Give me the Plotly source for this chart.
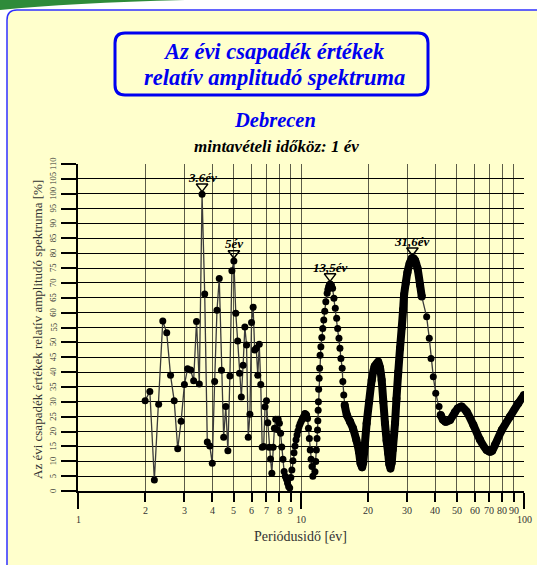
import math
import plotly.graph_objects as go

# ---------------- data ----------------
# sparse part, 2 .. 16 years
per_a = [2.0, 2.1, 2.2, 2.3, 2.4, 2.5, 2.6, 2.7, 2.8, 2.9,
         3.0, 3.1, 3.2, 3.3, 3.4, 3.5, 3.6, 3.7, 3.8, 3.9,
         4.0, 4.1, 4.2, 4.3, 4.4, 4.5, 4.6, 4.7, 4.8, 4.9,
         5.0, 5.1, 5.2, 5.3, 5.4, 5.5, 5.6, 5.7, 5.8, 5.9,
         6.0, 6.1, 6.2, 6.3, 6.4, 6.5, 6.6, 6.7, 6.8, 6.9,
         7.0, 7.1, 7.2, 7.3, 7.4, 7.5, 7.6, 7.7, 7.8, 7.9,
         8.0, 8.1, 8.2, 8.3, 8.4, 8.5, 8.6, 8.7, 8.8, 8.9,
         9.0, 9.1, 9.2, 9.3, 9.4, 9.5, 9.6, 9.7, 9.8, 9.9,
         10.0, 10.1, 10.2, 10.3, 10.4, 10.5, 10.6, 10.7, 10.8, 10.9,
         11.0, 11.1, 11.2, 11.3, 11.55, 11.65, 11.72, 11.8, 11.86, 11.9,
         11.94, 11.97, 12.0, 12.06, 12.12, 12.18, 12.28, 12.4, 12.52, 12.65,
         12.78, 12.92, 13.1, 13.2, 13.3, 13.4, 13.5, 13.6, 13.7, 13.86,
         14.05, 14.25, 14.45, 14.6, 14.8, 14.95, 15.1, 15.3, 15.4, 15.55,
         15.7, 16.05]
amp_a = [30.4, 33.5, 3.7, 29.2, 57.2, 53.2, 38.9, 30.4, 14.2, 23.5,
         35.8, 41.1, 40.7, 37.1, 57.0, 36.0, 99.8, 66.3, 16.5, 15.1,
         9.3, 36.8, 60.8, 71.5, 40.6, 18.1, 28.4, 13.5, 38.7, 74.1,
         77.4, 59.8, 50.5, 39.6, 31.6, 42.3, 55.2, 49.1, 18.1, 25.8,
         56.7, 61.8, 47.4, 48.0, 38.9, 49.4, 35.8, 14.7, 15.0, 28.3,
         30.4, 23.0, 14.7, 10.8, 6.0, 14.7, 21.1, 24.1, 20.7, 24.1,
         22.8, 19.4, 14.8, 10.7, 6.6, 5.0, 4.0, 2.7, 1.5, 1.0,
         4.5, 7.1, 10.2, 12.9, 15.1, 17.2, 18.8, 20.3, 21.6, 22.5,
         23.3, 24.0, 24.6, 25.2, 26.1, 25.9, 25.6, 24.4, 21.1, 17.7,
         13.8, 10.7, 8.2, 5.0, 6.5, 9.9, 13.8, 17.7, 20.5, 23.6,
         27.2, 30.0, 34.2, 37.9, 41.3, 45.7, 48.5, 51.6, 54.7, 57.5,
         60.5, 63.7, 66.5, 67.8, 68.7, 69.3, 69.6, 69.5, 69.2, 68.2,
         64.8, 61.5, 58.1, 54.7, 51.4, 48.0, 44.6, 41.3, 36.8, 32.3,
         28.9, 25.6]

# dense part, 16 .. 35 years
per_b = [15.7, 16.05, 16.6, 17.1, 17.7, 18.2, 18.5, 18.8, 19.0, 19.3,
         19.7, 20.2, 20.75, 21.4, 22.2, 22.6, 23.0, 23.4, 23.8, 24.2,
         24.6, 24.9, 25.2, 25.5, 25.8, 26.4, 26.8, 27.3, 27.8, 28.3,
         28.7, 29.0, 29.5, 30.0, 30.7, 31.4, 32.0, 32.5, 33.3, 34.2, 34.8]
amp_b = [28.9, 25.6, 23.3, 21.1, 17.2, 13.2, 9.3, 8.0, 9.5, 15.0,
         22.8, 30.0, 37.3, 42.0, 43.5, 41.5, 37.3, 30.0, 22.8, 17.0,
         12.7, 9.0, 7.6, 9.5, 14.0, 22.8, 31.0, 40.0, 48.0, 55.0,
         61.0, 66.0, 70.0, 73.5, 76.5, 78.3, 78.2, 77.5, 74.9, 69.3, 65.4]

# sparse part, 35 .. 42 years
per_c = [34.8, 36.6, 37.6, 38.3, 39.2, 40.2, 41.6, 42.3]
amp_c = [65.4, 58.6, 51.4, 44.6, 38.4, 32.9, 28.4, 25.6]

# dense part, 42 .. 100 years
per_d = [42.3, 43.3, 44.4, 46.6, 49.0, 50.5, 52.5, 55.3, 59.3, 63.5,
         68.0, 70.4, 72.0, 74.1, 79.5, 86.5, 94.3, 100.0]
amp_d = [25.6, 24.0, 23.3, 23.9, 26.5, 27.8, 28.4, 26.7, 22.2, 17.2,
         13.8, 13.2, 13.5, 15.5, 20.5, 25.0, 29.5, 32.3]

# marked peaks
peak_per = [3.6, 5.0, 13.5, 31.6]
peak_amp = [99.8, 77.4, 69.6, 78.3]
peak_text = ["3.6év", "5év", "13,5év", "31,6év"]

# ticks
y_ticks = list(range(0, 111, 5))
x_major = [1, 10, 100]
x_minor = [2, 3, 4, 5, 6, 7, 8, 9, 20, 30, 40, 50, 60, 70, 80, 90]
x_labels = [1, 2, 3, 4, 5, 6, 7, 8, 9, 10, 20, 30, 40, 50, 60, 70, 80, 90, 100]

# ---------------- layout helpers ----------------
W, H = 537, 565
ML, MR, MT, MB = 78, 13, 164, 74
PW = W - ML - MR
PH = H - MT - MB


def fx(px):
    return (px - ML) / PW


def fy(py):
    return (H - MB - py) / PH


SERIF = "Liberation Serif, Times New Roman, DejaVu Serif, serif"
BLUE = "#0000F0"
YEL = "#FFFFCC"

fig = go.Figure()

thin = dict(color="#3a3a3a", width=1.3)
dot = dict(color="black", size=7)

fig.add_trace(go.Scatter(x=per_a, y=amp_a, mode="lines+markers", line=thin, marker=dot))
fig.add_trace(go.Scatter(x=per_b, y=amp_b, mode="lines+markers",
                         line=dict(color="black", width=8, shape="spline", smoothing=0.6),
                         marker=dict(color="black", size=8)))
fig.add_trace(go.Scatter(x=per_c, y=amp_c, mode="lines+markers", line=thin, marker=dot))
fig.add_trace(go.Scatter(x=per_d, y=amp_d, mode="lines+markers",
                         line=dict(color="black", width=8, shape="spline", smoothing=0.6),
                         marker=dict(color="black", size=8)))
fig.add_trace(go.Scatter(x=peak_per, y=[a + 2.6 for a in peak_amp], mode="markers",
                         marker=dict(symbol="triangle-down-open", size=10, color="black",
                                     line=dict(width=1.5, color="black"))))

annotations = []
for p, a, t in zip(peak_per, peak_amp, peak_text):
    annotations.append(dict(x=math.log10(p), y=a, xref="x", yref="y", text=f"<b><i>{t}</i></b>",
                            showarrow=False, xanchor="center", yanchor="middle", yshift=17,
                            font=dict(family=SERIF, size=13, color="black")))

for v in x_labels:
    annotations.append(dict(x=math.log10(v), y=0, xref="x", yref="paper", text=str(v), showarrow=False,
                            xanchor="center", yanchor="middle", yshift=-28 if v in x_major else -19,
                            font=dict(family=SERIF, size=10, color="#333333")))

for v in y_ticks:
    annotations.append(dict(x=fx(53), y=v, xref="paper", yref="y", text=str(v), showarrow=False,
                            textangle=-90, xanchor="center", yanchor="middle",
                            font=dict(family=SERIF, size=8.5, color="#333333")))


def label(px, py, text, size, color, bold=True, italic=True, angle=0):
    if italic:
        text = f"<i>{text}</i>"
    if bold:
        text = f"<b>{text}</b>"
    return dict(x=fx(px), y=fy(py), xref="paper", yref="paper", text=text, showarrow=False,
                xanchor="center", yanchor="middle", textangle=angle,
                font=dict(family=SERIF, size=size, color=color))


annotations += [
    label(274, 52, "Az évi csapadék értékek", 22.5, BLUE),
    label(274, 78, "relatív amplitudó spektruma", 22.5, BLUE),
    label(275, 120, "Debrecen", 20.5, BLUE),
    label(276, 146, "mintavételi időköz: 1 év", 17, "black"),
    label(37, 330, "Az évi csapadék értékek relatív amplitudó spektruma [%]", 13, "#333333",
          bold=False, italic=False, angle=-90),
    label(300, 536, "Periódusidő [év]", 14, "#333333", bold=False, italic=False),
]


def rounded(x0, y0, x1, y1, r):
    return (f"M {fx(x0)},{fy(y0 + r)} Q {fx(x0)},{fy(y0)} {fx(x0 + r)},{fy(y0)} "
            f"L {fx(x1 - r)},{fy(y0)} Q {fx(x1)},{fy(y0)} {fx(x1)},{fy(y0 + r)} "
            f"L {fx(x1)},{fy(y1 - r)} Q {fx(x1)},{fy(y1)} {fx(x1 - r)},{fy(y1)} "
            f"L {fx(x0 + r)},{fy(y1)} Q {fx(x0)},{fy(y1)} {fx(x0)},{fy(y1 - r)} Z")


shapes = [
    dict(type="path", xref="paper", yref="paper", layer="below",
         path=(f"M {fx(7)},{fy(575)} L {fx(7)},{fy(20)} Q {fx(7)},{fy(10)} {fx(17)},{fy(10)} "
               f"L {fx(550)},{fy(10)} L {fx(550)},{fy(575)} Z"),
         fillcolor=YEL, line=dict(color="#3030FF", width=1.5)),
    dict(type="path", xref="paper", yref="paper", layer="below",
         path=(f"M {fx(0)},{fy(0)} L {fx(185)},{fy(0)} Q {fx(70)},{fy(3)} {fx(0)},{fy(10)} Z"),
         fillcolor="#2E8B3A", line=dict(width=0)),
    dict(type="path", xref="paper", yref="paper", layer="above",
         path=rounded(115, 33, 428, 95, 10),
         fillcolor="rgba(0,0,0,0)", line=dict(color=BLUE, width=3)),
]

grid_v = "#5c5c48"

fig.update_layout(
    width=W, height=H,
    margin=dict(l=ML, r=MR, t=MT, b=MB, pad=0),
    paper_bgcolor="white",
    plot_bgcolor="rgba(0,0,0,0)",
    showlegend=False,
    annotations=annotations,
    shapes=shapes,
    xaxis=dict(type="log", range=[0, 2], tickvals=x_major, showticklabels=False,
               ticks="outside", ticklen=16, tickwidth=1.5, tickcolor="black",
               showgrid=True, gridcolor=grid_v, gridwidth=1.3,
               showline=True, linecolor="black", linewidth=2, zeroline=False,
               minor=dict(tickvals=x_minor, ticks="outside", ticklen=9, tickwidth=1.5,
                          tickcolor="black", showgrid=True, gridcolor=grid_v, gridwidth=1.3)),
    yaxis=dict(range=[0, 110], tickvals=y_ticks, showticklabels=False,
               ticks="outside", ticklen=15, tickwidth=1.5, tickcolor="black",
               showgrid=True, gridcolor="black", gridwidth=1,
               showline=True, linecolor="black", linewidth=2, zeroline=False),
)

fig.write_html("out.html", config={"displayModeBar": False})
